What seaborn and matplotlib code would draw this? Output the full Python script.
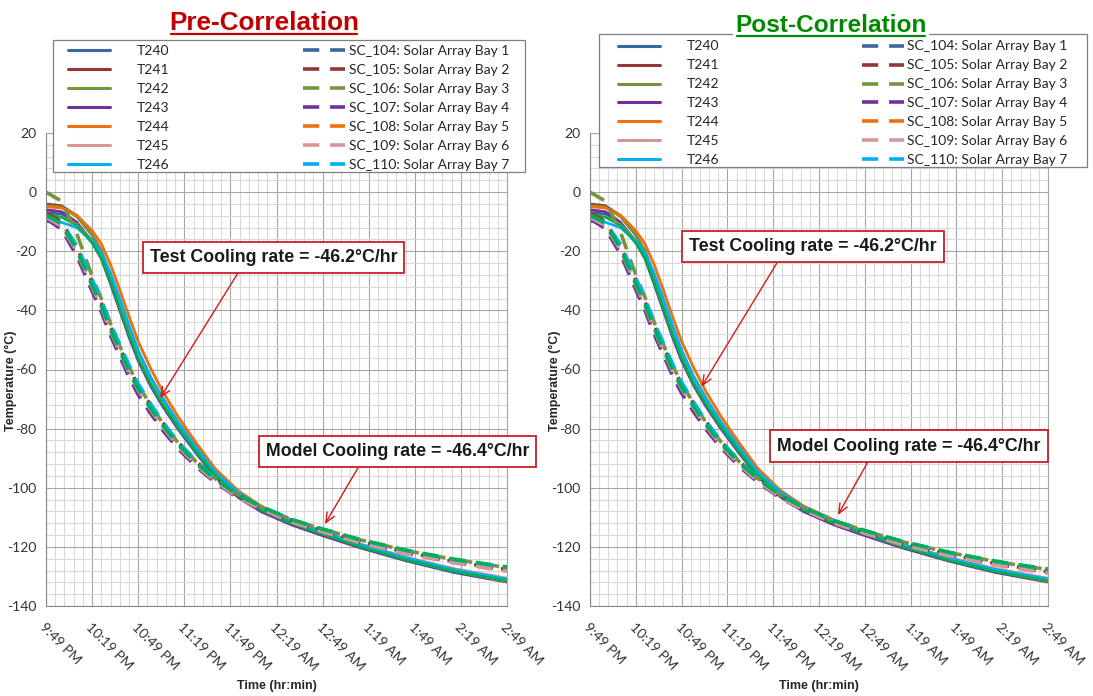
import matplotlib
matplotlib.use("Agg")
import matplotlib.pyplot as plt
from matplotlib.lines import Line2D
from matplotlib.patches import Rectangle
from matplotlib.ticker import MultipleLocator, FuncFormatter
import seaborn as sns
import pandas as pd

# minutes after 9:49 PM
minutes = [0, 10, 20, 30, 36, 42, 48, 54, 60, 68, 76, 86, 98, 110, 125, 140, 160, 180, 205, 235, 265, 300]
time_labels = ["9:49 PM", "10:19 PM", "10:49 PM", "11:19 PM", "11:49 PM", "12:19 AM",
               "12:49 AM", "1:19 AM", "1:49 AM", "2:19 AM", "2:49 AM"]

test_names = ["T240", "T241", "T242", "T243", "T244", "T245", "T246"]
model_names = ["SC_104: Solar Array Bay 1", "SC_105: Solar Array Bay 2", "SC_106: Solar Array Bay 3",
               "SC_107: Solar Array Bay 4", "SC_108: Solar Array Bay 5", "SC_109: Solar Array Bay 6",
               "SC_110: Solar Array Bay 7"]
bay_colors = ["#3A67A0", "#953735", "#77933C", "#7030A0", "#EE700E", "#D99694", "#00B0F0"]
extra_color = "#00B050"  # green trace drawn in the chart but not listed in the legend

# test thermocouples (deg C)
T240 = [-7, -7.4, -10.5, -16.5, -21.5, -29.5, -38.5, -47.5, -55.5, -64, -71, -79, -87.5, -95.3, -102.3, -107.3, -111.8, -115.4, -119.7, -124.2, -128, -131.3]
T241 = [-4, -4.6, -8, -14.5, -20, -28.5, -37.5, -46.5, -54.5, -63, -70, -78, -86.5, -94.5, -101.5, -106.5, -111, -114.8, -119.2, -123.7, -127.5, -130.8]
T242 = [-4.5, -5, -8.3, -14.6, -19.8, -28, -37, -46, -54, -62.5, -69.8, -78, -86.6, -94.6, -101.6, -106.7, -111.2, -115, -119.4, -123.9, -127.7, -131]
T243 = [-6, -6.6, -10.2, -17, -22.5, -31, -40, -49, -57, -65.5, -72.5, -80.2, -88.5, -96.3, -103.2, -108.1, -112.6, -116.2, -120.4, -124.8, -128.6, -131.9]
T244 = [-5, -5.3, -7.8, -13, -17.5, -24.5, -33, -42, -50.5, -59.5, -67.5, -76, -85, -93.5, -101, -106.2, -111, -114.9, -119.4, -124, -128, -131.7]
T245 = [-8, -8.3, -11, -16.8, -21.6, -29.6, -38.6, -47.6, -55.6, -64, -71, -78.8, -87.2, -95, -101.8, -106.8, -111.2, -114.9, -119.2, -123.6, -127.3, -130.6]
T246 = [-10, -10.2, -12, -16.5, -20.5, -27.5, -36, -45, -53.5, -62.5, -69.8, -78, -86.6, -94.6, -101.6, -106.6, -111.2, -114.9, -119.3, -123.8, -127.6, -130.9]
test_green = [-8, -8.4, -11.2, -17.2, -22.2, -30.2, -39.2, -48.2, -56.2, -64.8, -71.8, -79.6, -88, -95.8, -102.6, -107.6, -112.1, -115.7, -120, -124.5, -128.3, -131.5]

# model predictions, pre-correlation
SC104_pre = [-8, -11, -19.5, -31.5, -38.5, -46.5, -53.5, -60.5, -66.5, -73, -79, -85.4, -91.8, -97.2, -102.6, -106.6, -111, -114.3, -118, -121.7, -124.6, -127.3]
SC105_pre = [-7, -10, -18.5, -30.5, -37.5, -45.5, -52.5, -59.5, -65.5, -72, -78, -84.6, -91.2, -96.8, -102.4, -106.5, -111, -114.4, -118.2, -121.9, -124.9, -127.7]
SC106_pre = [0, -3, -14, -28.5, -36, -44.5, -52, -59, -65.3, -72, -78.2, -84.8, -91.4, -96.9, -102.4, -106.4, -110.8, -114, -117.7, -121.3, -124.2, -127]
SC107_pre = [-9, -12.5, -21.5, -33.5, -40.5, -48.5, -55.5, -62.5, -68.5, -74.8, -80.6, -86.8, -93, -98.2, -103.4, -107.3, -111.6, -114.8, -118.5, -122.2, -125.1, -127.8]
SC108_pre = [-8, -10.8, -19, -31, -38, -46, -53, -60, -66, -72.5, -78.5, -85, -91.5, -97, -102.5, -106.5, -111, -114.3, -118, -121.7, -124.6, -127.5]
SC109_pre = [-8.5, -11.5, -20, -32, -39, -47, -54, -61, -67, -73.5, -79.5, -86, -92.4, -97.8, -103.2, -107.2, -111.6, -114.9, -118.7, -122.4, -125.4, -128.3]
SC110_pre = [-8, -10.5, -18, -29.5, -36.5, -44.5, -51.5, -58.5, -64.8, -71.5, -77.8, -84.5, -91.2, -96.8, -102.3, -106.3, -110.8, -114, -117.7, -121.3, -124.3, -127]
green_pre = [-7.5, -10.8, -19.5, -31.5, -38.5, -46.5, -53.5, -60.5, -66.5, -73, -79, -85.4, -91.8, -97.1, -102.5, -106.4, -110.8, -114, -117.6, -121.2, -124.1, -126.8]

# model predictions, post-correlation
SC104_post = [-8, -11, -19.2, -31, -38, -46, -53, -60, -66, -72.6, -78.7, -85.2, -91.7, -97.1, -102.7, -106.8, -111.3, -114.7, -118.5, -122.2, -125.2, -128]
SC105_post = [-7, -10, -18.2, -30, -37, -45, -52, -59, -65, -71.6, -77.7, -84.4, -91.1, -96.8, -102.6, -106.8, -111.4, -114.9, -118.8, -122.5, -125.6, -128.4]
SC106_post = [0, -3, -13.6, -28, -35.5, -44, -51.5, -58.5, -64.8, -71.6, -77.9, -84.6, -91.3, -96.9, -102.6, -106.7, -111.2, -114.5, -118.3, -121.9, -124.9, -127.7]
SC107_post = [-9, -12.3, -21, -33, -40, -48, -55, -62, -68, -74.4, -80.3, -86.6, -92.9, -98.2, -103.6, -107.6, -112, -115.3, -119.1, -122.8, -125.8, -128.5]
SC108_post = [-8, -10.6, -18.6, -30.5, -37.5, -45.5, -52.5, -59.5, -65.5, -72.1, -78.2, -84.8, -91.4, -97, -102.7, -106.8, -111.4, -114.8, -118.6, -122.3, -125.3, -128.2]
SC109_post = [-8.5, -11.3, -19.6, -31.5, -38.5, -46.5, -53.5, -60.5, -66.5, -73.1, -79.2, -85.8, -92.3, -97.8, -103.4, -107.5, -112, -115.4, -119.3, -123, -126.1, -129]
SC110_post = [-8, -10.3, -17.6, -29, -36, -44, -51, -58, -64.3, -71.1, -77.5, -84.3, -91.1, -96.8, -102.5, -106.6, -111.2, -114.5, -118.3, -121.9, -124.9, -127.7]
green_post = [-7.5, -10.6, -19.1, -31, -38, -46, -53, -60, -66, -72.6, -78.7, -85.2, -91.7, -97, -102.7, -106.7, -111.2, -114.5, -118.2, -121.8, -124.8, -127.5]

test_series = [T240, T241, T242, T243, T244, T245, T246, test_green]
pre_series = [SC104_pre, SC105_pre, SC106_pre, SC107_pre, SC108_pre, SC109_pre, SC110_pre, green_pre]
post_series = [SC104_post, SC105_post, SC106_post, SC107_post, SC108_post, SC109_post, SC110_post, green_post]

sns.set_style("white")
plt.rcParams["font.family"] = ["Lato", "DejaVu Sans"]
plt.rcParams["axes.unicode_minus"] = False

W, H = 1093, 696
fig = plt.figure(figsize=(W / 100, H / 100), dpi=100)

colors8 = bay_colors + [extra_color]
test_keys = test_names + ["extra"]
model_keys = model_names + ["extra"]
DASH = (0, (4.5, 3))


def px(x, y):
    # pixel position (from top-left) -> figure fraction
    return x / W, 1 - y / H


def long_table(keys, series):
    rows = []
    for k, vals in zip(keys, series):
        for m, v in zip(minutes, vals):
            rows.append((k, m, v))
    return pd.DataFrame(rows, columns=["series", "minutes", "temp"])


def draw_panel(x0, x1, model_series, title, title_color, title_size, title_xy,
               box, leg_a, leg_b, pad_b, ylab_x, notes):
    top, bottom = 133, 606
    ax = fig.add_axes([x0 / W, 1 - bottom / H, (x1 - x0) / W, (bottom - top) / H])
    sns.lineplot(data=long_table(test_keys, test_series), x="minutes", y="temp", hue="series",
                 palette=dict(zip(test_keys, colors8)), estimator=None, sort=False,
                 linewidth=2.0, legend=False, ax=ax)
    sns.lineplot(data=long_table(model_keys, model_series), x="minutes", y="temp", hue="series",
                 palette=dict(zip(model_keys, colors8)), estimator=None, sort=False,
                 linewidth=2.6, linestyle=DASH, legend=False, ax=ax)

    ax.set_xlim(0, 300)
    ax.set_ylim(-140, 20)
    ax.set_xticks(range(0, 301, 30))
    ax.set_xticklabels(time_labels, rotation=-45, ha="left", va="top", rotation_mode="anchor",
                       fontsize=10, color="#333333")
    ax.xaxis.set_minor_locator(MultipleLocator(6))
    ax.yaxis.set_major_locator(MultipleLocator(20))
    ax.yaxis.set_minor_locator(MultipleLocator(4))
    ax.yaxis.set_major_formatter(FuncFormatter(lambda v, p: f"{v:.0f}"))
    ax.tick_params(axis="y", which="major", length=4, color="#868686", labelsize=10,
                   labelcolor="#333333", pad=3)
    ax.tick_params(axis="x", which="major", length=0, pad=11)
    ax.tick_params(which="minor", length=0)
    ax.grid(which="minor", color="#D9D9D9", linewidth=0.8)
    ax.grid(which="major", color="#A6A6A6", linewidth=0.8)
    ax.set_axisbelow(True)
    for s in ax.spines.values():
        s.set_color("#A6A6A6")
        s.set_linewidth(0.8)
    ax.spines["left"].set_color("#868686")
    ax.spines["bottom"].set_color("#868686")

    ax.set_xlabel("Time (hr:min)", fontsize=9, fontweight="bold", family="Liberation Sans", va="center")
    ax.xaxis.set_label_coords(0.5, (bottom - 686) / (bottom - top))
    ax.set_ylabel("Temperature (°C)", fontsize=9, fontweight="bold", family="Liberation Sans", va="center")
    ax.yaxis.set_label_coords((ylab_x - x0) / (x1 - x0), (bottom - 381) / (bottom - top))

    for text, box_xy, tail, tip in notes:
        ax.annotate("", xy=tip, xytext=tail,
                    arrowprops=dict(arrowstyle="->,head_length=0.7,head_width=0.3",
                                    color="#D41A1A", lw=1.0, shrinkA=0, shrinkB=0))
        ax.text(box_xy[0], box_xy[1], text, ha="center", va="center", fontsize=12.8,
                fontweight="bold", family="Liberation Sans", color="#1A1A1A", zorder=6,
                bbox=dict(boxstyle="square,pad=0.4", facecolor="white", edgecolor="#C8202A", lw=1.3))

    # legend frame + two columns
    bx0, by0, bx1, by1 = box
    fx, fy = px(bx0, by1)
    fig.add_artist(Rectangle((fx, fy), (bx1 - bx0) / W, (by1 - by0) / H, transform=fig.transFigure,
                             facecolor="white", edgecolor="#7F7F7F", lw=0.9, zorder=4.5))
    solid_h = [Line2D([], [], color=c, lw=2.2) for c in bay_colors]
    dash_h = [Line2D([], [], color=c, lw=2.6, linestyle=DASH) for c in bay_colors]
    common = dict(loc="upper left", frameon=False, fontsize=10, labelspacing=0.5,
                  borderpad=0, borderaxespad=0, handlelength=3.0)
    la = fig.legend(solid_h, test_names, bbox_to_anchor=px(*leg_a), handletextpad=1.94, **common)
    lb = fig.legend(dash_h, model_names, bbox_to_anchor=px(*leg_b), handletextpad=pad_b, **common)
    la.set_zorder(5)
    lb.set_zorder(5)

    tx, ty = px(*title_xy)
    t = fig.text(tx, ty, title, ha="center", va="baseline", fontsize=title_size,
                 fontweight="bold", family="Liberation Sans", color=title_color, zorder=10,
                 bbox=dict(boxstyle="square,pad=0.1", facecolor="white", edgecolor="none"))
    fig.canvas.draw()
    bb = t.get_window_extent().transformed(fig.transFigure.inverted())
    uy = ty - 4 / H
    fig.add_artist(Line2D([bb.x0 + 2 / W, bb.x1 - 2 / W], [uy, uy], transform=fig.transFigure,
                          color=title_color, lw=1.6, zorder=11))
    return ax


draw_panel(46, 507, pre_series, "Pre-Correlation", "#C00000", 18.8, (264, 30),
           (52.7, 40, 525, 172), (68, 45), (303, 45), 0.3, 11,
           [("Test Cooling rate = -46.2°C/hr", (148.0, -22.15), (124.9, -27.4), (74.2, -69.7)),
            ("Model Cooling rate = -46.4°C/hr", (228.7, -87.8), (203.0, -93.3), (181.5, -112.3))])

draw_panel(590, 1048, post_series, "Post-Correlation", "#008A00", 17.6, (831, 32),
           (599, 34, 1087, 167), (618, 40.5), (862, 40.5), 0.25, 555,
           [("Test Cooling rate = -46.2°C/hr", (146.2, -18.5), (122.3, -24.1), (73.1, -65.8)),
            ("Model Cooling rate = -46.4°C/hr", (208.9, -85.9), (182.0, -91.3), (162.4, -109.2))])

fig.savefig("out.png", dpi=100, facecolor="white")
